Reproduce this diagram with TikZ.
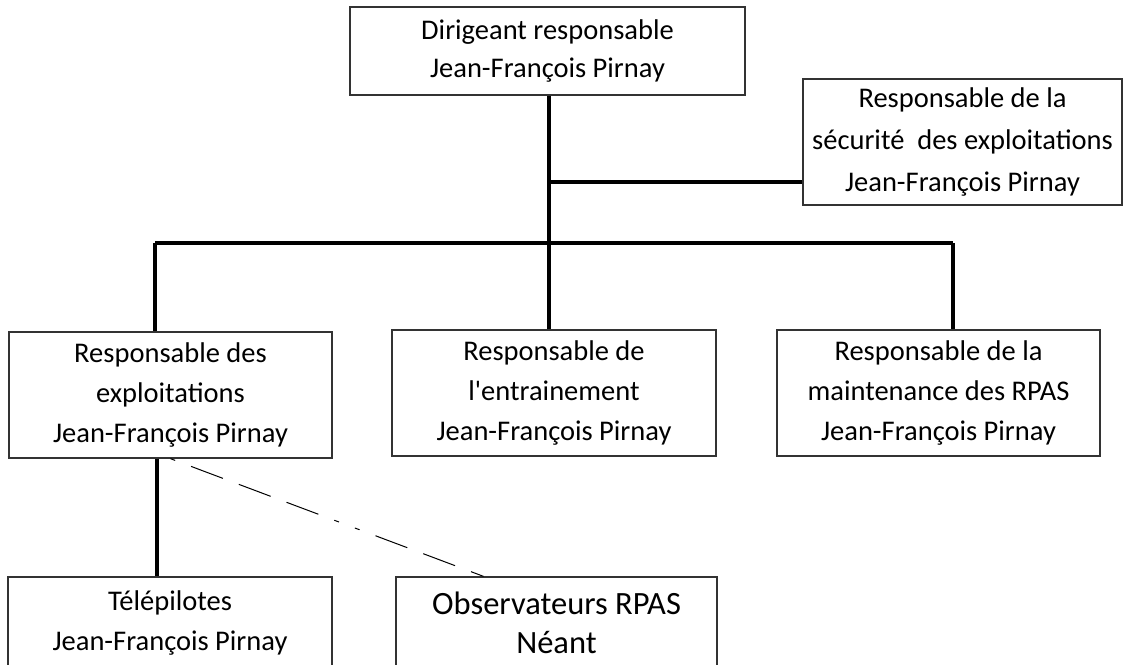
\documentclass[tikz,border=0pt]{standalone}
\usepackage{fontspec}
\newfontfamily\boxfont{Carlito}
\tikzset{
  box/.style={draw=black!80, line width=1.3pt, rectangle, align=center, inner sep=0pt, font=\boxfont\fontsize{28.5}{40}\selectfont},
  link/.style={line width=4pt},
  dotted link/.style={line width=1pt, dash pattern=on 5pt off 17pt on 34pt off 17pt on 34pt off 17pt on 34pt off 17pt on 5pt off 17pt}
}
\begin{document}
\begin{tikzpicture}[x=1pt, y=-1pt]
  \clip (0,0) rectangle (1123,664);
  % Boxes
  \node[box, minimum width=395pt, minimum height=88pt, font=\boxfont\fontsize{28.5}{38}\selectfont] (dir) at (547.5,51) {Dirigeant responsable\\Jean-François Pirnay};
  \node[box, minimum width=319pt, minimum height=126pt, font=\boxfont\fontsize{28.5}{42}\selectfont] (sec) at (962.5,142) {Responsable de la\\sécurité~ des exploitations\\Jean-François Pirnay};
  \node[box, minimum width=323pt, minimum height=126pt] (ops) at (170.5,395) {Responsable des\\exploitations\\Jean-François Pirnay};
  \node[box, minimum width=324pt, minimum height=126pt] (train) at (554,393) {Responsable de\\l'entrainement\\Jean-François Pirnay};
  \node[box, minimum width=323pt, minimum height=126pt] (maint) at (938.5,393) {Responsable de la\\maintenance des RPAS\\Jean-François Pirnay};
  \node[box, minimum width=324pt, minimum height=92pt] (pilots) at (170,623) {Télépilotes\\Jean-François Pirnay};
  \node[box, minimum width=321pt, minimum height=92pt, font=\boxfont\fontsize{32.5}{39}\selectfont] (obs) at (556.5,623) {Observateurs RPAS\\Néant};
  % Junctions
  \coordinate (barL) at (155,243);
  \coordinate (barR) at (953,243);
  \coordinate (secJ) at (549,182);
  % Connectors
  \draw[link] (dir.south -| secJ) -- (train.north -| secJ);
  \draw[link] (secJ) -- (sec.west |- secJ);
  \draw[link] (barL) -- (barR);
  \draw[link] (barL) -- (barL |- ops.north);
  \draw[link] (barR) -- (barR |- maint.north);
  \draw[link] ([xshift=-13.5pt]ops.south) -- ([xshift=-13.5pt]ops.south |- pilots.north);
  \draw[dotted link] (ops.south) -- ([xshift=-73pt]obs.north);
\end{tikzpicture}
\end{document}
